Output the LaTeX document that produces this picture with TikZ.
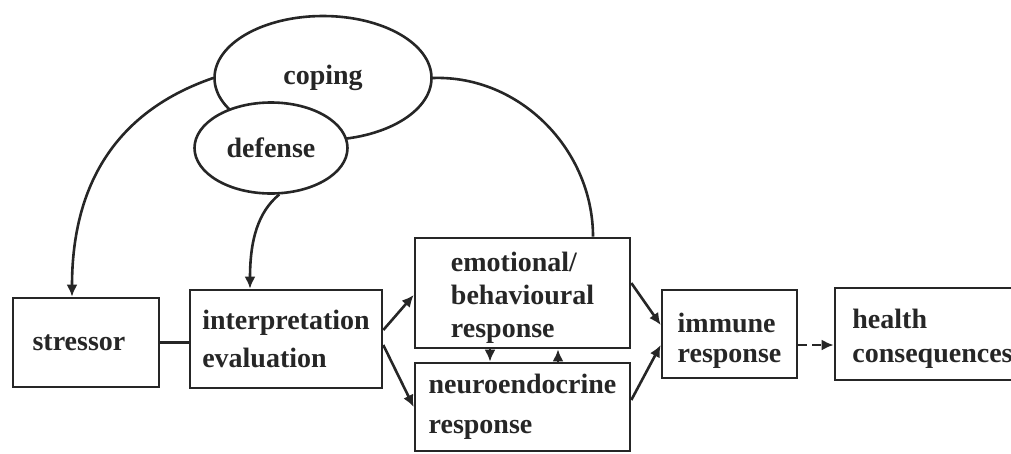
\documentclass[tikz,border=0pt]{standalone}
\usepackage{fontspec}
\setmainfont{Liberation Serif}
\usetikzlibrary{arrows.meta,shapes.geometric}
\begin{document}
\begin{tikzpicture}[x=1pt,y=-1pt,
  ink/.style={draw=black!85, line width=2.6pt},
  lbl/.style={font=\bfseries\fontsize{28}{#1}\selectfont},
  lbl/.default=34,
  box/.style={ink, rectangle, inner sep=0pt, align=left, text=black!85},
  blob/.style={ink, ellipse, fill=white, inner sep=0pt, text=black!85, lbl},
  link/.style={ink, -{Latex[length=12pt,width=11pt]}},
  tie/.style={ink}
]
\useasboundingbox (0,0) rectangle (1011,453);
\clip (0,0) rectangle (1011,453);

% coping and defense
\node[blob, minimum width=217pt, minimum height=124pt] (coping) at (323,78) {coping};
\node[blob, minimum width=153pt, minimum height=91pt] (defense) at (271,148) {defense};

% boxes of the stress chain
\node[box, lbl, minimum width=146pt, minimum height=89pt] (stressor) at (86,342.5) {stressor\kern14pt};
\node[box, lbl=38, minimum width=192pt, minimum height=98pt] (interp) at (286,339)
  {\rule{0pt}{20pt}interpretation\\evaluation};
\node[box, lbl=33, minimum width=215pt, minimum height=110pt] (emo) at (522.5,293)
  {\rule{0pt}{28pt}emotional/\\behavioural\\response};
\node[box, lbl=40, minimum width=215pt, minimum height=88pt] (neuro) at (522.5,407)
  {neuroendocrine\\response};
\node[box, lbl=30, minimum width=135pt, minimum height=88pt] (immune) at (729.5,334)
  {\rule{0pt}{32pt}immune\\response};
\node[box, lbl, minimum width=195pt, minimum height=92pt] (health) at (932.5,334)
  {\rule{0pt}{28pt}health\\consequences};

% feedback arcs
\draw[link] (coping.west) .. controls (120,110) and (72,180) .. ([xshift=-14pt]stressor.north);
\draw[link] (defense.-80) .. controls (258,212) and (250,240) .. ([xshift=-36pt]interp.north);
\draw[tie] (coping.east) .. controls (520,75) and (593,150) .. ([xshift=70.5pt]emo.north);

% main chain
\draw[tie] (stressor.east) -- (stressor.east -| interp.west);
\draw[link] ([yshift=9pt]interp.east) -- ([yshift=-2pt]emo.west);
\draw[link] ([yshift=-6pt]interp.east) -- (neuro.west);
\draw[link] ([yshift=10pt]emo.east) -- ([yshift=9pt]immune.west);
\draw[link] ([yshift=7pt]neuro.east) -- ([yshift=-11pt]immune.west);
\draw[link] ([xshift=-32.5pt]emo.south) -- ([xshift=-32.5pt]emo.south |- neuro.north);
\draw[link] ([xshift=35.5pt]neuro.north) -- ([xshift=35.5pt]neuro.north |- emo.south);
\draw[link, dash pattern=on 9pt off 5pt] ([yshift=-11pt]immune.east) -- ([yshift=-11pt]health.west);
\end{tikzpicture}
\end{document}
